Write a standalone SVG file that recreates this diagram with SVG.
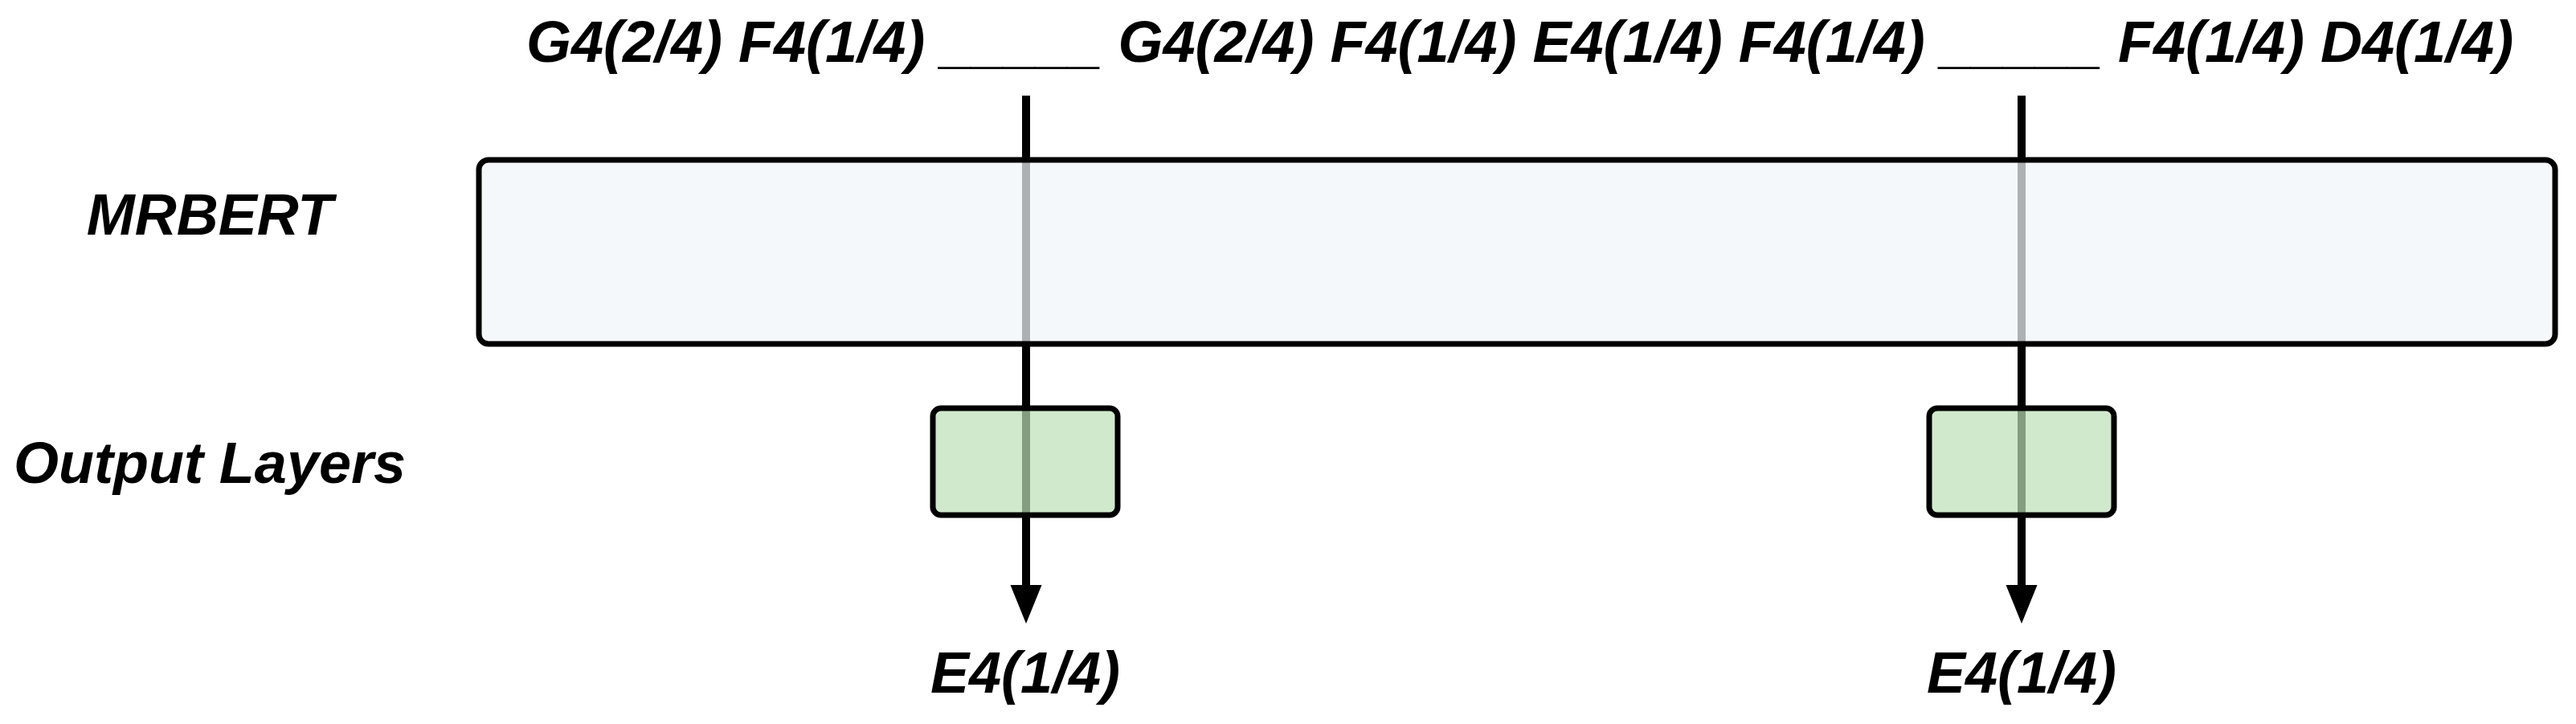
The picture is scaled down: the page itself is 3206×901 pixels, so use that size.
<svg xmlns="http://www.w3.org/2000/svg" width="3206" height="901" viewBox="0 0 3206 901">
<style>
.t{font-family:"Liberation Sans",Arial,sans-serif;font-weight:bold;font-style:italic;font-size:72px;fill:#000}
.box{stroke:#000;stroke-width:7}
.enc{fill:#f1f5f9}
.out{fill:#bce0b6}
.ln{stroke:#000;stroke-width:10;fill:none}
.head{fill:#000}
</style>
<rect width="3206" height="901" fill="#fff"/>
<g id="connectors">
<line class="ln" x1="1277" y1="119" x2="1277" y2="734"/>
<polygon class="head" points="1257.5,728 1296.5,728 1277,776"/>
<line class="ln" x1="2516" y1="119" x2="2516" y2="734"/>
<polygon class="head" points="2496.5,728 2535.5,728 2516,776"/>
</g>
<g id="input">
<text class="t" x="655" y="77">G4(2/4) F4(1/4) _____ G4(2/4) F4(1/4) E4(1/4) F4(1/4) _____ F4(1/4) D4(1/4)</text>
</g>
<g id="mrbert">
<rect class="box enc" x="596" y="199" width="2584" height="229" rx="12" fill-opacity="0.72"/>
</g>
<g id="label-mrbert">
<text class="t" x="261" y="292" text-anchor="middle">MRBERT</text>
</g>
<g id="label-output">
<text class="t" x="261" y="601" text-anchor="middle">Output Layers</text>
</g>
<g id="out1">
<rect class="box out" x="1161" y="508" width="230" height="133" rx="10" fill-opacity="0.7"/>
</g>
<g id="out2">
<rect class="box out" x="2401" y="508" width="230" height="133" rx="10" fill-opacity="0.7"/>
</g>
<g id="pred1">
<text class="t" x="1276" y="862" text-anchor="middle">E4(1/4)</text>
</g>
<g id="pred2">
<text class="t" x="2516" y="862" text-anchor="middle">E4(1/4)</text>
</g>
</svg>
